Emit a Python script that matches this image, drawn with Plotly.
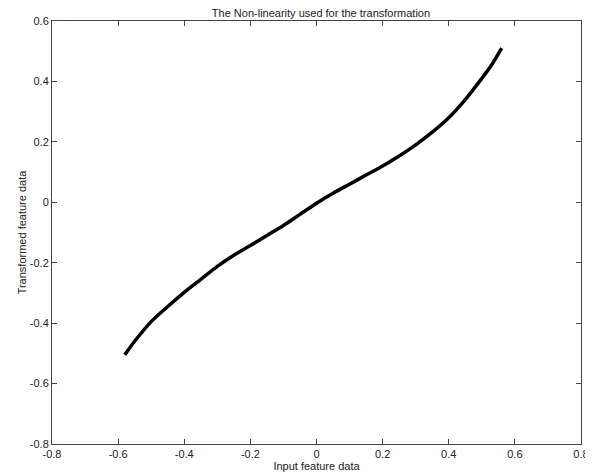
import plotly.graph_objects as go

x_input = [-0.58, -0.55, -0.50, -0.45, -0.40, -0.35, -0.30, -0.25, -0.20, -0.15, -0.10, -0.05,
           0.0, 0.05, 0.10, 0.15, 0.20, 0.25, 0.30, 0.35, 0.40, 0.45, 0.50, 0.53, 0.56]
y_transformed = [-0.505, -0.46, -0.395, -0.345, -0.298, -0.255, -0.212, -0.175, -0.143, -0.110, -0.077, -0.040,
                 -0.003, 0.030, 0.060, 0.090, 0.120, 0.153, 0.190, 0.232, 0.280, 0.340, 0.410, 0.455, 0.510]
x_ticks = [-0.8, -0.6, -0.4, -0.2, 0, 0.2, 0.4, 0.6, 0.8]
x_ticklabels = ["-0.8", "-0.6", "-0.4", "-0.2", "0", "0.2", "0.4", "0.6", "0.8"]
y_ticks = [-0.8, -0.6, -0.4, -0.2, 0, 0.2, 0.4, 0.6]
y_ticklabels = ["-0.8", "-0.6", "-0.4", "-0.2", "0", "0.2", "0.4", "0.6"]

fig = go.Figure()
fig.add_trace(go.Scatter(x=x_input, y=y_transformed, mode="lines",
                         line=dict(color="black", width=3.5, shape="spline", smoothing=0.8),
                         showlegend=False))

axis_common = dict(showgrid=False, zeroline=False, showline=True, linecolor="#444", linewidth=1,
                   mirror="ticks", ticks="inside", ticklen=5, tickcolor="#444", tickwidth=1,
                   automargin=False, tickfont=dict(size=11))

# page body has an 8px default margin, so the figure is sized to fit 593x474
fig.update_layout(
    width=585, height=466,
    margin=dict(l=44, r=12, t=13, b=30),
    paper_bgcolor="white", plot_bgcolor="white",
    font=dict(family="Liberation Sans, Arial, sans-serif", size=11, color="#222"),
    title=dict(text="The Non-linearity used for the transformation", x=0.535, xanchor="center",
               y=0.988, yanchor="middle", font=dict(size=11), automargin=False),
    xaxis=dict(range=[-0.8, 0.8], tickvals=x_ticks, ticktext=x_ticklabels,
               title=dict(text="Input feature data", standoff=0, font=dict(size=11)), **axis_common),
    yaxis=dict(range=[-0.8, 0.6], tickvals=y_ticks, ticktext=y_ticklabels,
               title=dict(text="Transformed feature data", standoff=0, font=dict(size=11)), **axis_common),
)

fig.write_html("out.html")
